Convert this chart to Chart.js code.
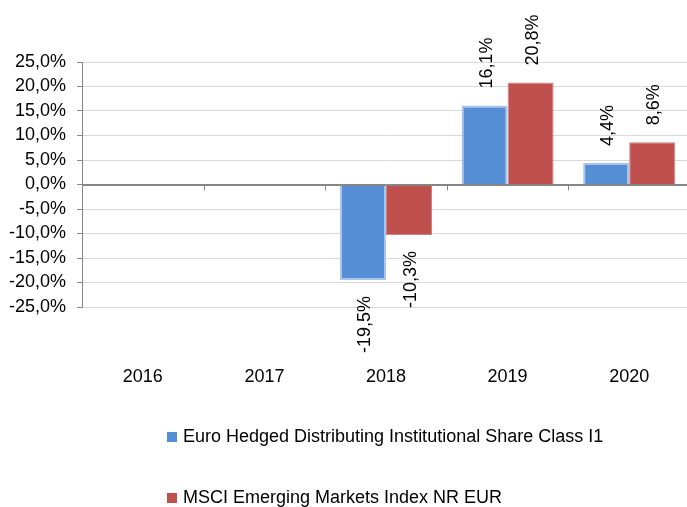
<!DOCTYPE html>
<html>
<head>
<meta charset="utf-8">
<script src="https://cdn.jsdelivr.net/npm/chart.js@4/dist/chart.umd.min.js"></script>
<style>
html,body{margin:0;padding:0;background:#fff;overflow:hidden;}
#wrap{width:692px;height:507px;}
</style>
</head>
<body>
<div id="wrap"><canvas id="c" width="692" height="507"></canvas></div>
<script>
const categories = ['2016', '2017', '2018', '2019', '2020'];
const fundValues = [null, null, -19.5, 16.1, 4.4];
const indexValues = [null, null, -10.3, 20.8, 8.6];
const seriesNames = ['Euro Hedged Distributing Institutional Share Class I1', 'MSCI Emerging Markets Index NR EUR'];
const yTicks = [-25, -20, -15, -10, -5, 0, 5, 10, 15, 20, 25];

const FONT = '"Liberation Sans", Arial, sans-serif';
const FS = 18;
const fmt = v => v.toFixed(1).replace('.', ',') + '%';

const extrasPlugin = {
  id: 'extras',
  afterDatasetsDraw(chart) {
    const ctx = chart.ctx;
    const y = chart.scales.y;
    const area = chart.chartArea;
    const y0 = Math.round(y.getPixelForValue(0)) + 0.5;
    ctx.save();
    ctx.strokeStyle = '#868686';
    ctx.lineWidth = 1;
    ctx.beginPath();
    ctx.moveTo(area.left, y0);
    ctx.lineTo(area.right, y0);
    ctx.stroke();
    const n = categories.length;
    const cw = (area.right - area.left) / n;
    ctx.beginPath();
    for (let i = 1; i < n; i++) {
      const px = Math.round(area.left + i * cw) + 0.5;
      ctx.moveTo(px, y0);
      ctx.lineTo(px, y0 + 5);
    }
    ctx.stroke();
    ctx.fillStyle = '#000';
    ctx.font = FS + 'px ' + FONT;
    ctx.textBaseline = 'middle';
    chart.data.datasets.forEach((ds, di) => {
      const meta = chart.getDatasetMeta(di);
      meta.data.forEach((bar, i) => {
        const v = ds.data[i];
        if (v === null || v === undefined) return;
        ctx.save();
        if (v >= 0) {
          ctx.translate(bar.x + 2, bar.y - 17);
          ctx.rotate(-Math.PI / 2);
          ctx.textAlign = 'left';
        } else {
          ctx.translate(bar.x + 2, bar.y + 16);
          ctx.rotate(-Math.PI / 2);
          ctx.textAlign = 'right';
        }
        ctx.fillText(fmt(v), 0, 0);
        ctx.restore();
      });
    });
    ctx.restore();
  },
  afterDraw(chart) {
    const ctx = chart.ctx;
    ctx.save();
    ctx.font = FS + 'px ' + FONT;
    ctx.textBaseline = 'middle';
    ctx.textAlign = 'left';
    const rows = [437, 498];
    chart.data.datasets.forEach((ds, di) => {
      const cy = rows[di];
      ctx.fillStyle = ds.backgroundColor;
      ctx.fillRect(167, cy - 5, 10, 10);
      ctx.fillStyle = '#000';
      ctx.fillText(ds.label, 183, cy);
    });
    ctx.restore();
  }
};

new Chart(document.getElementById('c'), {
  type: 'bar',
  data: {
    labels: categories,
    datasets: [
      { label: seriesNames[0], data: fundValues, backgroundColor: '#558ED5', borderColor: '#A9C5EB', borderWidth: 2 },
      { label: seriesNames[1], data: indexValues, backgroundColor: '#C0504D', borderColor: '#D0807D', borderWidth: 1 }
    ]
  },
  options: {
    responsive: false,
    animation: false,
    devicePixelRatio: 1,
    layout: { padding: { top: 62, right: 2, left: 0, bottom: 0 } },
    plugins: { legend: { display: false }, tooltip: { enabled: false } },
    datasets: { bar: { barPercentage: 1, categoryPercentage: 0.757 } },
    scales: {
      x: {
        grid: { display: false, drawTicks: false },
        border: { display: false },
        ticks: { color: '#000', font: { family: FONT, size: FS }, padding: 59, maxRotation: 0, autoSkip: false },
        afterFit(s) { s.height = 200; s.paddingLeft = 0; s.paddingRight = 0; }
      },
      y: {
        min: -25, max: 25,
        afterBuildTicks(s) { s.ticks = yTicks.map(v => ({ value: v })); },
        grid: {
          color: c => (c.tick && c.tick.value === 0) ? '#868686' : '#D9D9D9',
          tickColor: '#868686',
          tickLength: 5,
          lineWidth: 1
        },
        border: { display: true, color: '#868686', width: 1 },
        ticks: { color: '#000', font: { family: FONT, size: FS }, padding: 11, autoSkip: false, callback: v => fmt(v) },
        afterFit(s) { s.width = 82; s.paddingTop = 0; s.paddingBottom = 0; }
      }
    }
  },
  plugins: [extrasPlugin]
});
</script>
</body>
</html>
